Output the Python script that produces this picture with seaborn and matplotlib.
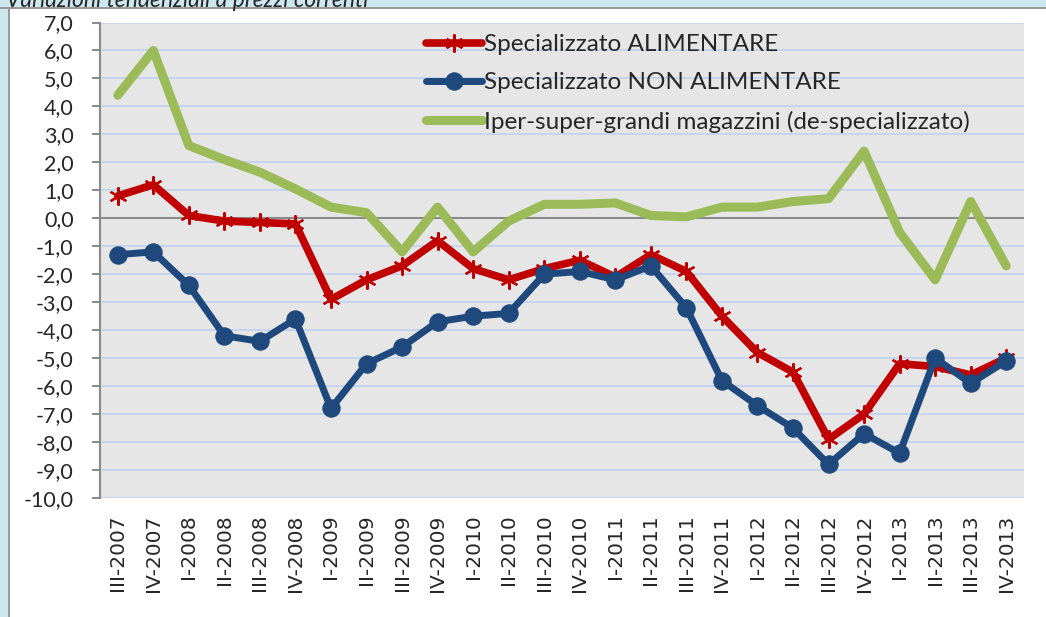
import numpy as np
import pandas as pd
import matplotlib
matplotlib.use("Agg")
import matplotlib.pyplot as plt
from matplotlib.patches import Rectangle
from matplotlib.ticker import FuncFormatter
import seaborn as sns

# -------------------
# DATA
# -------------------
quarters = [
    "III-2007", "IV-2007",
    "I-2008", "II-2008", "III-2008", "IV-2008",
    "I-2009", "II-2009", "III-2009", "IV-2009",
    "I-2010", "II-2010", "III-2010", "IV-2010",
    "I-2011", "II-2011", "III-2011", "IV-2011",
    "I-2012", "II-2012", "III-2012", "IV-2012",
    "I-2013", "II-2013", "III-2013", "IV-2013",
]

alimentare = [0.8, 1.2, 0.1, -0.1, -0.15, -0.2,
              -2.9, -2.2, -1.7, -0.8,
              -1.8, -2.2, -1.8, -1.5,
              -2.1, -1.3, -1.9, -3.5,
              -4.8, -5.5, -7.9, -7.0,
              -5.2, -5.3, -5.6, -5.0]

non_alimentare = [-1.3, -1.2, -2.4, -4.2, -4.4, -3.6,
                  -6.8, -5.2, -4.6, -3.7,
                  -3.5, -3.4, -2.0, -1.9,
                  -2.2, -1.7, -3.2, -5.8,
                  -6.7, -7.5, -8.8, -7.7,
                  -8.4, -5.0, -5.9, -5.1]

iper = [4.4, 6.0, 2.6, 2.1, 1.65, 1.05,
        0.4, 0.2, -1.2, 0.4,
        -1.2, -0.1, 0.5, 0.5,
        0.55, 0.1, 0.05, 0.4,
        0.4, 0.6, 0.7, 2.4,
        -0.5, -2.2, 0.6, -1.7]

series_names = [
    "Specializzato ALIMENTARE",
    "Specializzato NON ALIMENTARE",
    "Iper-super-grandi magazzini (de-specializzato)",
]
colors = ["#c00000", "#1f497d", "#9bbb59"]
y_ticks = np.arange(-10, 8, 1)

# -------------------
# STYLE
# -------------------
sns.set_style("white")
plt.rcParams["font.family"] = ["Lato", "DejaVu Sans"]

W, H = 1046, 617
fig = plt.figure(figsize=(W / 100, H / 100), dpi=100)
fig.patch.set_facecolor("white")

# outer frame (blue band on top and left with gray edge)
fig.patches.append(Rectangle((0, 1 - 7 / H), 1, 7 / H, transform=fig.transFigure,
                             facecolor="#cde7ef", edgecolor="none", zorder=0))
fig.patches.append(Rectangle((0, 0), 8 / W, 1, transform=fig.transFigure,
                             facecolor="#cde7ef", edgecolor="none", zorder=0))
fig.patches.append(Rectangle((0, 1 - 9 / H), 1, 2 / H, transform=fig.transFigure,
                             facecolor="#9a9a9a", edgecolor="none", zorder=1))
fig.patches.append(Rectangle((8 / W, 0), 2 / W, 1 - 7 / H, transform=fig.transFigure,
                             facecolor="#9a9a9a", edgecolor="none", zorder=1))

# title is cut by the top edge in the original, as here
fig.text(6 / W, 1 - 7 / H, "Variazioni tendenziali a prezzi correnti",
         fontsize=16.5, fontstyle="italic", va="baseline", ha="left", zorder=5)

ax = fig.add_axes([100 / W, 1 - 498 / H, 924 / W, 475.5 / H])
ax.set_facecolor("#e6e6e6")

# gridlines
for v in y_ticks:
    if v != 0:
        ax.axhline(v, color="#c8d4ec", lw=1.5, zorder=1)
ax.axhline(0, color="#8a8a8a", lw=1.5, zorder=2)

# -------------------
# LINES
# -------------------
sns.lineplot(x=quarters, y=alimentare, sort=False, ax=ax, color=colors[0],
             lw=5.5, marker=(6, 2, 0), markersize=13, mew=1.6, mec=colors[0],
             solid_joinstyle="round", label=series_names[0], zorder=3)
sns.lineplot(x=quarters, y=non_alimentare, sort=False, ax=ax, color=colors[1],
             lw=5, marker="o", markersize=12.5, mec=colors[1],
             solid_joinstyle="round", label=series_names[1], zorder=4)
sns.lineplot(x=quarters, y=iper, sort=False, ax=ax, color=colors[2],
             lw=6.5, solid_capstyle="round", solid_joinstyle="round",
             label=series_names[2], zorder=3)

# -------------------
# AXES
# -------------------
ax.set_xlim(-0.5, len(quarters) - 0.5)
ax.set_ylim(-10, 7)
ax.set_yticks(y_ticks)
ax.yaxis.set_major_formatter(FuncFormatter(lambda v, p: f"{v:.1f}".replace(".", ",")))
ax.tick_params(axis="y", direction="out", length=6, width=1.5, color="#8a8a8a",
               labelsize=15.5, pad=13, left=True)
ax.tick_params(axis="x", length=0, labelsize=14.5, pad=12, labelrotation=90)
for lbl in ax.get_xticklabels():
    lbl.set_fontfamily(["DejaVu Sans"])
ax.set_xlabel("")
ax.set_ylabel("")
for s in ["top", "right", "bottom"]:
    ax.spines[s].set_visible(False)
ax.spines["left"].set_color("#8a8a8a")
ax.spines["left"].set_linewidth(1.5)

ax.legend(loc="upper left", bbox_to_anchor=(326 / 924, 0.975), frameon=False,
          fontsize=17.5, handlelength=2.3, handletextpad=0.1, labelspacing=0.7,
          borderpad=0, borderaxespad=0, numpoints=1)

fig.savefig("out.png", dpi=100)
